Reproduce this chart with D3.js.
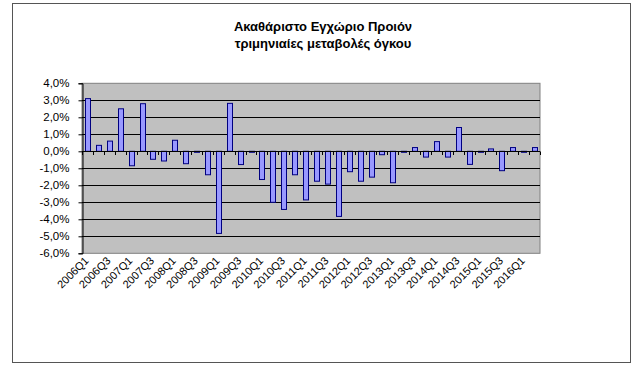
<!DOCTYPE html>
<html>
<head>
<meta charset="utf-8">
<script src="https://cdn.jsdelivr.net/npm/d3@7"></script>
<style>
    body { margin: 0; background: #fff; }
    svg { display: block; font-family: "Liberation Sans", Arial, sans-serif; }
</style>
</head>
<body>
<div id="chart"></div>
<script>
const years = d3.range(2006, 2017);
const quarters = years.flatMap(y => [1, 2, 3, 4].map(q => `${y}Q${q}`)).slice(0, 42);

// quarterly volume change, %
const values = [
    3.1, 0.35, 0.6, 2.5, -0.85, 2.8, -0.47, -0.57, 0.65, -0.73,
    -0.05, -1.38, -4.83, 2.82, -0.78, -0.05, -1.66, -3.0, -3.42, -1.38,
    -2.86, -1.76, -1.93, -3.83, -1.2, -1.76, -1.52, -0.2, -1.85, -0.04,
    0.22, -0.34, 0.57, -0.34, 1.4, -0.77, -0.04, 0.14, -1.14, 0.22,
    -0.04, 0.22
];

const yTicks = [4, 3, 2, 1, 0, -1, -2, -3, -4, -5, -6];

const width = 643, height = 367;
const plot = { left: 82, right: 540, top: 83.3, bottom: 253.3 };

const svg = d3.select('#chart')
    .append('svg')
    .attr('width', width)
    .attr('height', height);

// outer frame
svg.append('rect')
    .attr('x', 12.5).attr('y', 3.5)
    .attr('width', 618).attr('height', 359)
    .attr('fill', '#fff')
    .attr('stroke', '#555')
    .attr('stroke-width', 1);

const x = d3.scaleBand()
    .domain(quarters)
    .range([plot.left, plot.right])
    .paddingInner(0.55)
    .paddingOuter(0.275);

const y = d3.scaleLinear()
    .domain([-6, 4])
    .range([plot.bottom, plot.top]);

svg.append('rect')
    .attr('x', plot.left).attr('y', plot.top)
    .attr('width', plot.right - plot.left)
    .attr('height', plot.bottom - plot.top)
    .attr('fill', '#c0c0c0')
    .attr('stroke', '#808080');

svg.append('g')
    .selectAll('line')
    .data(yTicks.filter(d => d !== -6 && d !== 4))
    .enter()
    .append('line')
    .attr('x1', plot.left).attr('x2', plot.right)
    .attr('y1', d => Math.round(y(d)) + 0.5)
    .attr('y2', d => Math.round(y(d)) + 0.5)
    .attr('stroke', '#000');

svg.append('g')
    .selectAll('rect')
    .data(values)
    .enter()
    .append('rect')
    .attr('x', (d, i) => Math.round(x(quarters[i])) + 0.5)
    .attr('y', d => y(Math.max(0, d)))
    .attr('width', Math.round(x.bandwidth()))
    .attr('height', d => Math.max(1, Math.abs(y(d) - y(0))))
    .attr('fill', '#9999ff')
    .attr('stroke', '#000080')
    .attr('stroke-width', 1);

// category axis on the zero line
const step = x.step();
svg.append('line')
    .attr('x1', plot.left).attr('x2', plot.right)
    .attr('y1', Math.round(y(0)) + 0.5).attr('y2', Math.round(y(0)) + 0.5)
    .attr('stroke', '#000');

svg.append('g')
    .selectAll('line')
    .data(d3.range(quarters.length + 1))
    .enter()
    .append('line')
    .attr('x1', i => Math.round(plot.left + i * step) + 0.5)
    .attr('x2', i => Math.round(plot.left + i * step) + 0.5)
    .attr('y1', Math.round(y(0)) + 0.5)
    .attr('y2', Math.round(y(0)) + 4)
    .attr('stroke', '#000');

// value axis
const yAxis = svg.append('g')
    .attr('transform', `translate(${plot.left + 0.5},0)`)
    .call(d3.axisLeft(y)
        .tickValues(yTicks)
        .tickSize(4)
        .tickPadding(9)
        .tickFormat(d => d3.format('.1f')(d).replace('.', ',').replace('−', '-') + '%'));
yAxis.select('.domain').attr('stroke', '#000');
yAxis.selectAll('.tick line').attr('stroke', '#000');
yAxis.selectAll('text')
    .attr('font-size', '11.5px')
    .attr('fill', '#000');

// rotated quarter labels
svg.append('g')
    .selectAll('text')
    .data(quarters.filter((d, i) => i % 2 === 0))
    .enter()
    .append('text')
    .attr('transform', d => `translate(${x(d) + x.bandwidth() / 2 + 2},${plot.bottom + 8}) rotate(-45)`)
    .attr('text-anchor', 'end')
    .attr('font-size', '11px')
    .attr('fill', '#000')
    .text(d => d);

const title = svg.append('text')
    .attr('x', 323)
    .attr('text-anchor', 'middle')
    .attr('font-size', '13px')
    .attr('font-weight', 'bold')
    .attr('fill', '#000');
title.append('tspan').attr('x', 323).attr('y', 31).text('Ακαθάριστο Εγχώριο Προιόν');
title.append('tspan').attr('x', 323).attr('y', 48).text('τριμηνιαίες μεταβολές όγκου');
</script>
</body>
</html>
